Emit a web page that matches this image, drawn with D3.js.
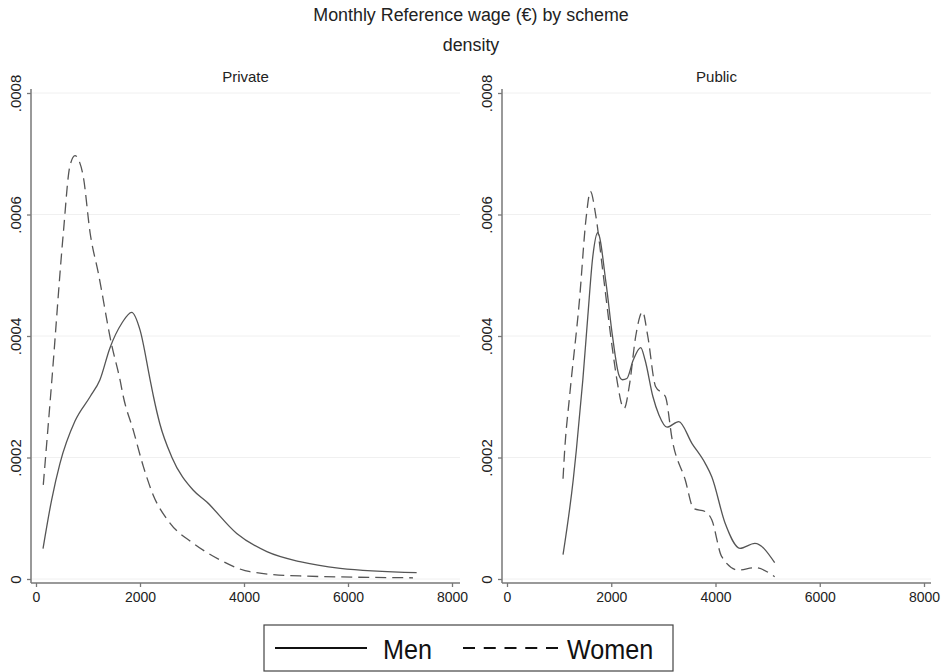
<!DOCTYPE html>
<html>
<head>
<meta charset="utf-8">
<script src="https://cdn.jsdelivr.net/npm/d3@7"></script>
<style>
  html, body { margin: 0; padding: 0; background: #fff; }
  svg { display: block; font-family: "Liberation Sans", Arial, sans-serif; }
</style>
</head>
<body>
<svg id="chart" width="941" height="672"></svg>
<script>
// Kernel density of monthly reference wage, by scheme and sex
const panels = ["Private", "Public"];

// Private scheme: [wage (€), density]
const privateMen = [
  [135, 0.00005], [300, 0.00013], [460, 0.00019], [750, 0.00026], [1040, 0.0003],
  [1230, 0.000328], [1420, 0.00038], [1650, 0.000421], [1840, 0.000439], [2000, 0.00041],
  [2190, 0.00033], [2260, 0.0003], [2380, 0.000256], [2610, 0.000201], [3025, 0.000146],
  [3280, 0.000127], [3860, 0.000075], [4440, 0.000045], [5075, 0.0000285], [5850, 0.0000176],
  [7320, 0.0000104]
];
const privateWomen = [
  [140, 0.000155], [300, 0.000322], [525, 0.000569], [650, 0.000679], [750, 0.000697],
  [820, 0.00069], [910, 0.000662], [1040, 0.00057], [1200, 0.000503], [1456, 0.000385],
  [1615, 0.000328], [1680, 0.0003], [1870, 0.000245], [2065, 0.000185], [2255, 0.000138],
  [2580, 0.0000917], [3025, 0.0000588], [3540, 0.0000313], [4115, 0.000012], [5075, 0.000005],
  [7250, 0.000002]
];

// Public scheme: [wage (€), density]
const publicMen = [
  [1075, 0.00004], [1270, 0.000163], [1330, 0.000212], [1455, 0.000328], [1550, 0.000432],
  [1645, 0.00053], [1740, 0.00057], [1900, 0.000487], [2025, 0.000399], [2150, 0.000335],
  [2215, 0.000328], [2300, 0.00033], [2420, 0.00036], [2565, 0.000381], [2650, 0.00036],
  [2800, 0.0003], [2915, 0.00027], [3070, 0.00025], [3295, 0.000259], [3550, 0.000223],
  [3805, 0.00019], [3930, 0.000168], [4185, 0.0000917], [4470, 0.0000505], [4755, 0.0000587],
  [5135, 0.0000269]
];
const publicWomen = [
  [1075, 0.000165], [1105, 0.00021], [1200, 0.0003], [1390, 0.000459], [1520, 0.000596],
  [1600, 0.000638], [1700, 0.0006], [1835, 0.000509], [2025, 0.000377], [2120, 0.000322],
  [2215, 0.000284], [2250, 0.000281], [2350, 0.00032], [2470, 0.0004], [2600, 0.00044],
  [2700, 0.0004], [2850, 0.000317], [3040, 0.0003], [3170, 0.000229], [3420, 0.000163],
  [3580, 0.000116], [3805, 0.000111], [3930, 0.0000971], [4120, 0.0000367], [4440, 0.0000148],
  [4755, 0.0000187], [5135, 0.0000038]
];

const xTicks = [0, 2000, 4000, 6000, 8000];
const yTicks = [0, 0.0002, 0.0004, 0.0006, 0.0008];
const yTickLabels = ["0", ".0002", ".0004", ".0006", ".0008"];
const seriesNames = ["Men", "Women"];

const title = "Monthly Reference wage (€) by scheme";
const subtitle = "density";

const panelData = [
  { name: panels[0], men: privateMen, women: privateWomen },
  { name: panels[1], men: publicMen, women: publicWomen }
];

const svg = d3.select("#chart");
const lineColor = "#555";
const axisColor = "#777";

svg.append("text").attr("x", 471).attr("y", 21).attr("text-anchor", "middle")
  .attr("font-size", 19).attr("fill", "#222")
  .attr("transform", "translate(471,0) scale(0.94,1) translate(-471,0)")
  .text(title);
svg.append("text").attr("x", 471).attr("y", 51).attr("text-anchor", "middle")
  .attr("font-size", 19).attr("fill", "#222")
  .attr("transform", "translate(471,0) scale(0.94,1) translate(-471,0)")
  .text(subtitle);

// panel frames: axis line positions and the pixel range of 0..8000 / 0..0.0008
const layout = [
  { axisX: 31, axisRight: 460, x0: 36, x1: 452 },
  { axisX: 502, axisRight: 931, x0: 507, x1: 924 }
];
const yTop = 93, yBottom = 579, axisY = 583, axisTop = 89;

panelData.forEach((p, i) => {
  const L = layout[i];
  const x = d3.scaleLinear().domain([0, 8000]).range([L.x0, L.x1]);
  const y = d3.scaleLinear().domain([0, 0.0008]).range([yBottom, yTop]);
  const g = svg.append("g");

  // light horizontal grid
  g.selectAll("line.grid").data(yTicks).join("line")
    .attr("class", "grid")
    .attr("x1", L.axisX + 1).attr("x2", L.axisRight)
    .attr("y1", d => y(d)).attr("y2", d => y(d))
    .attr("stroke", "#f0f0f0").attr("stroke-width", 1);

  // panel title
  g.append("text").attr("x", (L.axisX + L.axisRight) / 2).attr("y", 82)
    .attr("text-anchor", "middle").attr("font-size", 15).attr("fill", "#222")
    .text(p.name);

  // y axis
  const yAxis = d3.axisLeft(y).tickValues(yTicks).tickSize(4).tickPadding(8)
    .tickFormat((d, k) => yTickLabels[k]);
  const ya = g.append("g").attr("transform", `translate(${L.axisX},0)`).call(yAxis);
  ya.select(".domain").remove();
  ya.selectAll(".tick line").attr("stroke", axisColor).attr("stroke-width", 1.3);
  ya.selectAll(".tick text")
    .attr("x", null)
    .attr("text-anchor", "middle")
    .attr("transform", "translate(-15,0) rotate(-90)")
    .attr("dy", "0.35em")
    .attr("font-size", 15).attr("fill", "#222")
    .attr("font-family", "Liberation Sans, Arial, sans-serif");
  g.append("line").attr("x1", L.axisX).attr("x2", L.axisX)
    .attr("y1", axisTop).attr("y2", axisY)
    .attr("stroke", axisColor).attr("stroke-width", 1.5);

  // x axis
  const xAxis = d3.axisBottom(x).tickValues(xTicks).tickSize(4).tickPadding(5)
    .tickFormat(d3.format("d"));
  const xa = g.append("g").attr("transform", `translate(0,${axisY})`).call(xAxis);
  xa.select(".domain").remove();
  xa.selectAll(".tick line").attr("stroke", axisColor).attr("stroke-width", 1.3);
  xa.selectAll(".tick text").attr("font-size", 14).attr("fill", "#222")
    .attr("font-family", "Liberation Sans, Arial, sans-serif");
  g.append("line").attr("x1", L.axisX).attr("x2", L.axisRight)
    .attr("y1", axisY).attr("y2", axisY)
    .attr("stroke", axisColor).attr("stroke-width", 1.5);

  const line = d3.line().x(d => x(d[0])).y(d => y(d[1])).curve(d3.curveMonotoneX);
  g.append("path").datum(p.men).attr("d", line)
    .attr("fill", "none").attr("stroke", lineColor).attr("stroke-width", 1.3);
  g.append("path").datum(p.women).attr("d", line)
    .attr("fill", "none").attr("stroke", lineColor).attr("stroke-width", 1.3)
    .attr("stroke-dasharray", "11,6");
});

// legend
const lg = svg.append("g");
lg.append("rect").attr("x", 264).attr("y", 625).attr("width", 409).attr("height", 46)
  .attr("fill", "#fff").attr("stroke", "#444").attr("stroke-width", 1.2);
lg.append("line").attr("x1", 275).attr("x2", 367).attr("y1", 648).attr("y2", 648)
  .attr("stroke", "#111").attr("stroke-width", 2);
lg.append("text").attr("font-size", 28).attr("fill", "#111")
  .attr("transform", "translate(383,659) scale(0.9,1)")
  .text(seriesNames[0]);
lg.append("line").attr("x1", 463).attr("x2", 558).attr("y1", 648).attr("y2", 648)
  .attr("stroke", "#111").attr("stroke-width", 2).attr("stroke-dasharray", "12,8.75");
lg.append("text").attr("font-size", 28).attr("fill", "#111")
  .attr("transform", "translate(567,659) scale(0.9,1)")
  .text(seriesNames[1]);
</script>
</body>
</html>
